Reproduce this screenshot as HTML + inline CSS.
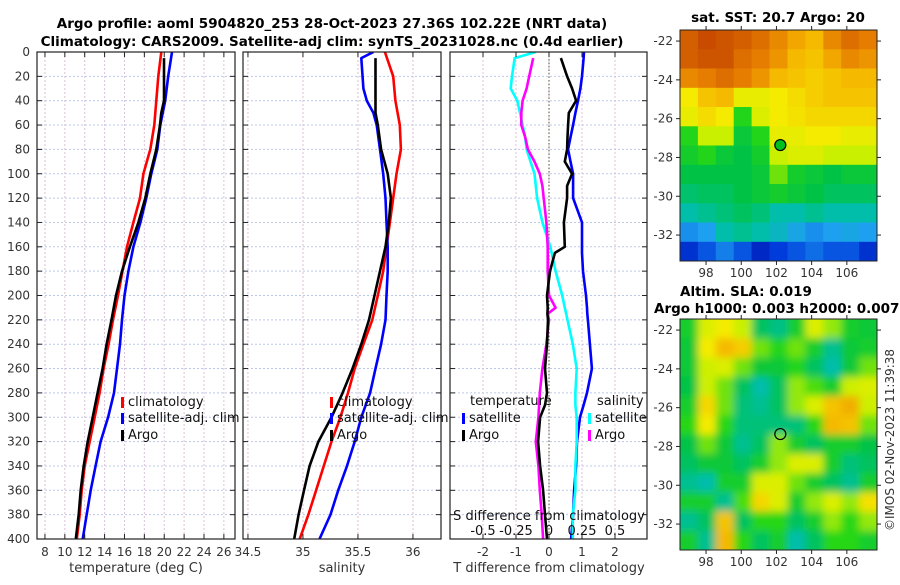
<!DOCTYPE html>
<html><head><meta charset="utf-8">
<style>
body{margin:0;background:#fff;width:900px;height:580px;overflow:hidden}
svg{font-family:"DejaVu Sans","Liberation Sans",sans-serif}
.t{font-size:12px;fill:#333}
.b{font-size:13.5px;font-weight:bold;fill:#000}
</style></head><body>
<svg id="s" width="900" height="580" xmlns="http://www.w3.org/2000/svg">
<defs>
<clipPath id="c1"><rect x="37" y="52" width="198" height="487"/></clipPath>
<clipPath id="c2"><rect x="243" y="52" width="198" height="487"/></clipPath>
<clipPath id="c3"><rect x="450" y="52" width="197" height="487"/></clipPath>
<clipPath id="cm1"><rect x="680" y="30" width="197" height="231"/></clipPath>
<clipPath id="cm2"><rect x="680" y="319" width="197" height="231"/></clipPath>
<filter id="blur" x="-10%" y="-10%" width="120%" height="120%"><feGaussianBlur stdDeviation="4"/></filter>
</defs>
<text class="b" x="332" y="28" text-anchor="middle">Argo profile: aoml 5904820_253 28-Oct-2023 27.36S 102.22E (NRT data)</text>
<text class="b" x="332" y="46" text-anchor="middle">Climatology: CARS2009. Satellite-adj clim: synTS_20231028.nc (0.4d earlier)</text>
<g id="g"></g>
<text class="b" x="778" y="22" text-anchor="middle">sat. SST: 20.7 Argo: 20</text>
<text class="b" x="746" y="296" text-anchor="middle">Altim. SLA: 0.019</text>
<text class="b" x="654" y="313">Argo h1000: 0.003 h2000: 0.0077</text>
<text class="t" transform="translate(894,440) rotate(-90)" text-anchor="middle">©IMOS 02-Nov-2023 11:39:38</text>
</svg>
<script>
const depths=[0,20,40,60,80,100,120,140,160,180,200,220,240,260,280,300,320,340,360,380,400];
const tClim=[19.7,19.4,19.2,19.0,18.6,17.9,17.56,16.9,16.25,15.8,15.35,14.85,14.4,13.9,13.5,13.0,12.5,12.0,11.7,11.5,11.2];
const tSat=[20.78,20.4,20.1,19.6,19.3,18.7,18.2,17.6,16.9,16.4,16.0,15.75,15.55,15.25,14.95,14.35,13.6,13.1,12.6,12.2,11.8];
const argoDepths=[5,20,40,50,60,80,100,120,140,160,180,200,220,240,260,280,300,320,340,360,380,400];
const tArgo=[19.98,19.98,19.98,19.7,19.57,19.2,18.6,18.1,17.4,16.55,15.75,15.15,14.7,14.2,13.8,13.3,12.8,12.3,11.9,11.6,11.4,11.1];
const sClim=[35.745,35.82,35.84,35.88,35.89,35.85,35.82,35.79,35.76,35.73,35.68,35.63,35.55,35.47,35.41,35.34,35.26,35.19,35.12,35.05,34.97];
const sArgo=[35.66,35.66,35.66,35.66,35.68,35.71,35.77,35.8,35.78,35.75,35.7,35.65,35.6,35.53,35.45,35.36,35.26,35.14,35.06,35.01,34.96,34.92];
const sSatDepths=[0,5,30,40,50,60,80,100,120,140,160,180,200,220,240,260,280,300,320,340,360,380,400];
const sSat=[35.64,35.53,35.55,35.58,35.64,35.67,35.7,35.73,35.75,35.76,35.77,35.77,35.76,35.75,35.71,35.66,35.61,35.53,35.47,35.4,35.32,35.25,35.15];
const dDepths=[0,5,20,30,40,50,60,70,80,90,100,110,120,140,160,165,180,200,210,215,220,240,260,280,290,300,320,340,360,380,400];
const dTSat=[1.06,1.05,1.0,0.95,0.88,0.8,0.73,0.65,0.58,0.65,0.73,0.73,0.73,1.0,1.0,1.0,1.03,1.12,1.15,1.16,1.18,1.24,1.3,1.15,1.05,0.94,0.85,0.82,0.76,0.73,0.67];
const dTArgo=[null,0.36,0.55,0.7,0.82,0.6,0.58,0.56,0.55,0.48,0.7,0.55,0.55,0.45,0.48,0.18,0.03,-0.06,-0.04,-0.05,-0.03,-0.06,-0.12,-0.06,-0.12,-0.27,-0.33,-0.27,-0.18,-0.12,-0.06];
const dSSat=[-0.1,-0.26,-0.28,-0.29,-0.24,-0.22,-0.2,-0.18,-0.17,-0.14,-0.11,-0.1,-0.09,-0.05,0.01,0.02,0.05,0.1,0.12,0.13,0.14,0.18,0.21,0.2,0.2,0.21,0.21,0.2,0.2,0.18,0.18];
const dSArgo=[null,-0.12,-0.15,-0.17,-0.2,-0.21,-0.21,-0.18,-0.16,-0.11,-0.07,-0.05,-0.04,-0.02,-0.01,-0.01,-0.01,0.0,0.05,-0.01,0.0,-0.02,-0.05,-0.07,-0.075,-0.08,-0.1,-0.08,-0.07,-0.055,-0.045];
const depthTicks=[0,20,40,60,80,100,120,140,160,180,200,220,240,260,280,300,320,340,360,380,400];
const tTicks=[8,10,12,14,16,18,20,22,24,26];
const sTicks=[34.5,35,35.5,36];
const dTTicks=[-2,-1,0,1,2];
const dSTicks=[-0.5,-0.25,0,0.25,0.5];
const dSTickLabels=["-0.5","-0.25","0","0.25","0.5"];
const latTicks=[-22,-24,-26,-28,-30,-32];
const lonTicks=[98,100,102,104,106];
const argoLon=102.22, argoLat=-27.36;
const sstGrid=[
[.88,.92,.9,.88,.85,.8,.75,.72,.8,.85,.82],
[.88,.9,.9,.85,.82,.78,.72,.7,.75,.8,.78],
[.8,.82,.85,.82,.78,.72,.7,.68,.7,.72,.72],
[.62,.7,.72,.6,.6,.62,.65,.68,.7,.7,.7],
[.6,.65,.62,.45,.58,.62,.64,.66,.66,.66,.66],
[.45,.55,.55,.4,.45,.6,.6,.62,.62,.6,.6],
[.42,.45,.4,.38,.42,.55,.58,.58,.55,.55,.55],
[.38,.38,.38,.38,.4,.5,.42,.4,.38,.4,.4],
[.35,.36,.36,.38,.4,.42,.4,.38,.36,.36,.36],
[.3,.32,.34,.36,.34,.3,.3,.32,.3,.3,.3],
[.22,.24,.3,.32,.3,.28,.25,.22,.24,.25,.24],
[.1,.15,.2,.15,.08,.12,.15,.18,.15,.15,.1]];
const slaGrid=[
[.42,.58,.62,.55,.36,.33,.42,.58,.52,.42,.4],
[.4,.62,.72,.68,.5,.45,.5,.42,.32,.4,.42],
[.4,.56,.58,.5,.4,.4,.45,.36,.3,.4,.5],
[.38,.56,.5,.36,.3,.36,.52,.48,.42,.56,.58],
[.42,.66,.5,.34,.32,.36,.52,.58,.7,.74,.56],
[.46,.62,.46,.34,.34,.34,.34,.46,.72,.7,.5],
[.38,.5,.4,.32,.36,.52,.42,.36,.42,.42,.38],
[.36,.4,.4,.36,.42,.52,.58,.58,.42,.34,.36],
[.32,.3,.42,.42,.58,.58,.5,.42,.36,.32,.42],
[.42,.42,.32,.48,.66,.58,.42,.52,.58,.52,.64],
[.32,.36,.7,.36,.46,.46,.36,.42,.52,.46,.52],
[.42,.32,.72,.46,.36,.42,.3,.36,.46,.46,.42]];

const NS='http://www.w3.org/2000/svg';
const G=document.getElementById('g');
function mk(tag,at,parent){const e=document.createElementNS(NS,tag);for(const k in at)e.setAttribute(k,at[k]);(parent||G).appendChild(e);return e;}
const Y0=52,Y1=539;
const yD=d=>Y0+(Y1-Y0)*d/400;
const xT=v=>37+(v-7.2)*9.94;
const xS=v=>243+(v-34.455)*110;
const xDT=v=>549+33*v;
const xDS=v=>549+132*v;
const mx=lon=>680+(lon-96.52)*17.6;
const my1=lat=>30+(-21.43-lat)*19.4;
const my2=lat=>319+(-21.43-lat)*19.4;

function grid(x0,x1,xs,xf){
  depthTicks.forEach(d=>{const l=mk('line',{x1:x0,x2:x1,y1:yD(d),y2:yD(d),stroke:'#bcc8ea','stroke-width':1,'stroke-dasharray':'2,2'});
  });
  xs.forEach(v=>{const l=mk('line',{x1:xf(v),x2:xf(v),y1:Y0,y2:Y1,stroke:'#dcc0d8','stroke-width':1,'stroke-dasharray':'2,2'});
  });
}
function frame(x0,x1,xs,xf,name){
  depthTicks.forEach(d=>{mk('line',{x1:x0,x2:x0+5,y1:yD(d),y2:yD(d),stroke:'#222'});mk('line',{x1:x1-5,x2:x1,y1:yD(d),y2:yD(d),stroke:'#222'});});
  xs.forEach(v=>{mk('line',{x1:xf(v),x2:xf(v),y1:Y1,y2:Y1-5,stroke:'#222'});mk('line',{x1:xf(v),x2:xf(v),y1:Y0,y2:Y0+5,stroke:'#222'});});
  const r=mk('rect',{x:x0,y:Y0,width:x1-x0,height:Y1-Y0,fill:'none',stroke:'#222','stroke-width':1.2});
  
}
function line(ds,vs,xf,col,clip,name,w){
  let p='';ds.forEach((d,i)=>{if(vs[i]==null)return;p+=(p?'L':'M')+xf(vs[i]).toFixed(1)+','+yD(d).toFixed(1);});
  const e=mk('path',{d:p,fill:'none',stroke:col,'stroke-width':w||2.6,'stroke-linejoin':'round','clip-path':'url(#'+clip+')'});
  
}
function txt(x,y,s,anchor,name,cls){const e=mk('text',{x:x,y:y,'text-anchor':anchor||'middle',class:cls||'t'});e.textContent=s;
  return e;}
function legend(x,y,col,label){const b=mk('rect',{x:x,y:y-9,width:3,height:11,fill:col});
  
  txt(x+7,y,label,'start','legend-entry').setAttribute('style','font-size:13px;fill:#111');}

// Panel 1
grid(37,235,tTicks,xT);
line(depths,tClim,xT,'#ff0000','c1','temp-climatology-line');
line(depths,tSat,xT,'#0000ff','c1','temp-satellite-line');
line(argoDepths,tArgo,xT,'#000','c1','temp-argo-line');
frame(37,235,tTicks,xT,'temperature-panel');
depthTicks.forEach(d=>txt(30,yD(d)+4,String(d),'end','depth-tick-label'));
tTicks.forEach(v=>txt(xT(v),556,String(v),'middle','temp-tick-label'));
txt(136,572,'temperature (deg C)','middle','temp-axis-title').setAttribute('style','font-size:13px;fill:#333');
legend(121,406,'#ff0000','climatology');legend(121,422,'#0000ff','satellite-adj. clim');legend(121,439,'#000','Argo');

// Panel 2
grid(243,441,sTicks,xS);
line(depths,sClim,xS,'#ff0000','c2','sal-climatology-line');
line(sSatDepths,sSat,xS,'#0000ff','c2','sal-satellite-line');
line(argoDepths,sArgo,xS,'#000','c2','sal-argo-line');
frame(243,441,sTicks,xS,'salinity-panel');
sTicks.forEach(v=>txt(xS(v),556,String(v),'middle','sal-tick-label'));
txt(342,572,'salinity','middle','sal-axis-title').setAttribute('style','font-size:13px;fill:#333');
legend(330,406,'#ff0000','climatology');legend(330,422,'#0000ff','satellite-adj. clim');legend(330,439,'#000','Argo');

// Panel 3
grid(450,647,dTTicks,xDT);
const z=mk('line',{x1:xDT(0),x2:xDT(0),y1:Y0,y2:Y1,stroke:'#555533','stroke-dasharray':'1.5,2'});

line(dDepths,dTSat,xDT,'#0000ff','c3','tdiff-satellite-line');
line(dDepths,dSSat,xDS,'#00ffff','c3','sdiff-satellite-line');
line(dDepths,dSArgo,xDS,'#ff00ff','c3','sdiff-argo-line');
line(dDepths,dTArgo,xDT,'#000','c3','tdiff-argo-line');
frame(450,647,dTTicks,xDT,'difference-panel');
dTTicks.forEach(v=>txt(xDT(v),556,String(v),'middle','tdiff-tick-label'));
txt(549,572,'T difference from climatology','middle','tdiff-axis-title').setAttribute('style','font-size:13px;fill:#333');
txt(549,520,'S difference from climatology','middle','sdiff-axis-title').setAttribute('style','font-size:13px;fill:#111');
dSTicks.forEach((v,i)=>txt(xDS(v),535,dSTickLabels[i],'middle','sdiff-tick-label').setAttribute('style','font-size:13px;fill:#111'));
txt(470,405,'temperature','start','legend-header').setAttribute('style','font-size:13px;fill:#111');
legend(462,422,'#0000ff','satellite');legend(462,439,'#000','Argo');
txt(597,405,'salinity','start','legend-header').setAttribute('style','font-size:13px;fill:#111');
legend(588,422,'#00ffff','satellite');legend(588,439,'#ff00ff','Argo');

// maps
const stops=[[0,[0,0,150]],[.12,[0,60,220]],[.24,[30,160,240]],[.3,[0,190,170]],[.38,[0,195,70]],[.46,[40,215,20]],[.55,[200,240,0]],[.62,[245,235,0]],[.72,[245,185,0]],[.82,[230,125,0]],[.92,[200,75,0]],[1,[170,40,0]]];
function cmap(v){for(let i=1;i<stops.length;i++){if(v<=stops[i][0]){const a=stops[i-1],b=stops[i],t=(v-a[0])/(b[0]-a[0]);
  return 'rgb('+a[1].map((c,k)=>Math.round(c+(b[1][k]-c)*t)).join(',')+')';}}return 'rgb(170,40,0)';}
function map(gridv,x0,y0,clip,name,blur){
  const g=mk('g',{'clip-path':'url(#'+clip+')'});
  const inner=mk('g',blur?{filter:'url(#blur)'}:{},g);
  const rows=gridv.length,cols=gridv[0].length,cw=197/cols,ch=231/rows;
  const ext=blur?2:0;
  for(let r=-ext;r<rows+ext;r++)for(let c=-ext;c<cols+ext;c++){
    const rr=Math.min(rows-1,Math.max(0,r)),cc=Math.min(cols-1,Math.max(0,c));
    const e=mk('rect',{x:(x0+c*cw).toFixed(1),y:(y0+r*ch).toFixed(1),width:(cw+0.6).toFixed(1),height:(ch+0.6).toFixed(1),fill:cmap(gridv[rr][cc])},inner);
    
  }
}
function mapFrame(y0,myf,label){
  const r=mk('rect',{x:680,y:y0,width:197,height:231,fill:'none',stroke:'#222'});
  
  latTicks.forEach(l=>{mk('line',{x1:680,x2:676,y1:myf(l),y2:myf(l),stroke:'#222'});mk('line',{x1:877,x2:881,y1:myf(l),y2:myf(l),stroke:'#222'});
    txt(673,myf(l)+4,String(l),'end','lat-tick-label');});
  lonTicks.forEach(l=>{mk('line',{x1:mx(l),x2:mx(l),y1:y0+231,y2:y0+235,stroke:'#222'});mk('line',{x1:mx(l),x2:mx(l),y1:y0,y2:y0-4,stroke:'#222'});
    txt(mx(l),y0+247,String(l),'middle','lon-tick-label');});
}
map(sstGrid,680,30,'cm1','sst-map',false);
map(slaGrid,680,319,'cm2','sla-map',true);
mapFrame(30,my1,'sst-map-frame');mapFrame(319,my2,'sla-map-frame');
const c1=mk('circle',{cx:mx(argoLon),cy:my1(argoLat),r:5.5,fill:'#00c020',stroke:'#000','stroke-width':1.2});

const c2=mk('circle',{cx:mx(argoLon),cy:my2(argoLat),r:5.5,fill:'none',stroke:'#000','stroke-width':1.2});

</script>
</body></html>
